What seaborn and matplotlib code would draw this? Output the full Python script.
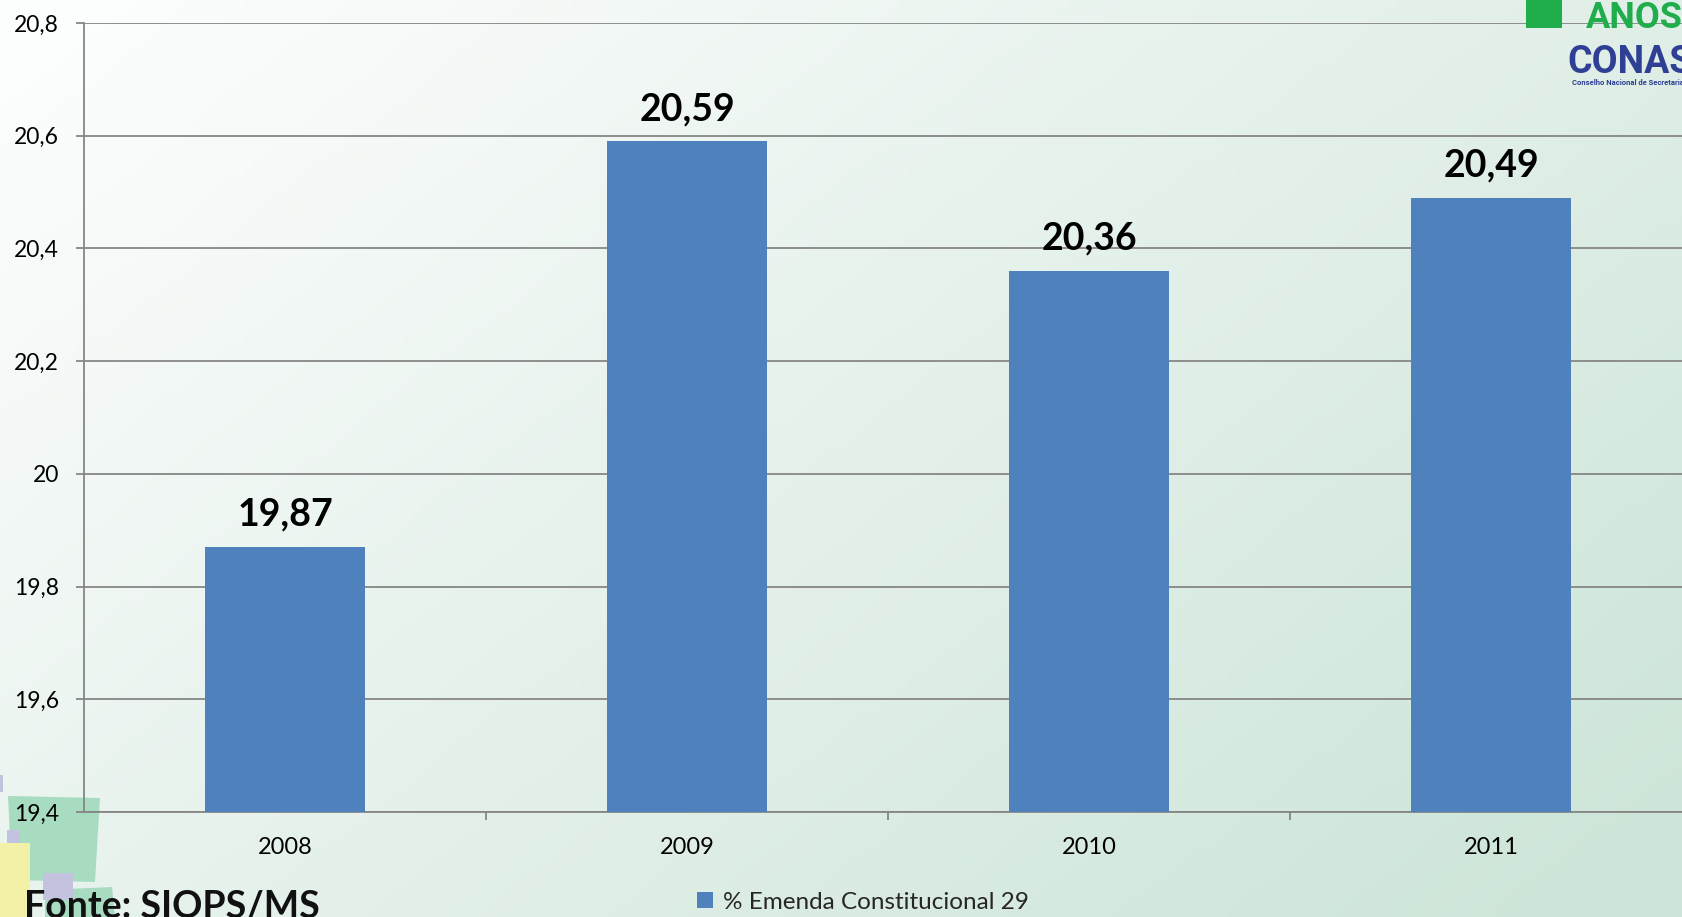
import numpy as np
import pandas as pd
import matplotlib
matplotlib.use("Agg")
import matplotlib.pyplot as plt
import matplotlib.patches as mpatches
import seaborn as sns

sns.set_style("white")
plt.rcParams["font.family"] = ["Lato", "DejaVu Sans"]

anos = ["2008", "2009", "2010", "2011"]
percentual = [19.87, 20.59, 20.36, 20.49]
serie = "% Emenda Constitucional 29"
y_ticks = [19.4, 19.6, 19.8, 20.0, 20.2, 20.4, 20.6, 20.8]
y_labels = ["19,4", "19,6", "19,8", "20", "20,2", "20,4", "20,6", "20,8"]

df = pd.DataFrame({"Ano": anos, "Percentual": percentual})

W, H = 1682, 917
fig = plt.figure(figsize=(W / 100, H / 100), dpi=100)

# background gradient white -> light green
bg_ax = fig.add_axes([0, 0, 1, 1], zorder=-10)
gx = np.linspace(0, 1, 200)
gy = np.linspace(0, 1, 120)
XX, YY = np.meshgrid(gx, gy)
t = np.clip(0.65 * XX + 0.45 * YY - 0.05, 0, 1)
c0 = np.array([252, 253, 253]) / 255
c1 = np.array([205, 229, 216]) / 255
img = c0[None, None, :] * (1 - t[..., None]) + c1[None, None, :] * t[..., None]
bg_ax.imshow(img, aspect="auto", extent=[0, 1, 0, 1], origin="upper")
bg_ax.set_xlim(0, 1)
bg_ax.set_ylim(0, 1)
bg_ax.axis("off")

# decorative shapes bottom-left
def fx(px):
    return px / W

def fy(py):
    return 1 - py / H

deco = [
    ([(8, 796), (100, 798), (95, 882), (12, 880)], "#a8dcc0"),
    ([(45, 890), (112, 887), (115, 917), (45, 917)], "#a8dcc0"),
    ([(0, 843), (30, 843), (30, 917), (0, 917)], "#f3f0a8"),
    ([(7, 830), (20, 830), (20, 843), (7, 843)], "#c3c3e0"),
    ([(43, 873), (73, 873), (73, 900), (43, 900)], "#c3c3e0"),
    ([(0, 775), (3, 775), (3, 792), (0, 792)], "#c3c3e0"),
]
for pts, col in deco:
    fig.patches.append(mpatches.Polygon([(fx(a), fy(b)) for a, b in pts],
                                        closed=True, transform=fig.transFigure,
                                        facecolor=col, edgecolor="none", zorder=-5))

ax = fig.add_axes([84 / W, 1 - 812 / H, 1608 / W, (812 - 23) / H])
ax.set_facecolor("none")

sns.barplot(data=df, x="Ano", y="Percentual", color="#4f81bd", width=0.4,
            saturation=1, label=serie, ax=ax, zorder=3, linewidth=0,
            edgecolor="none")

ax.set_ylim(19.4, 20.8)
ax.set_xlim(-0.5, 3.5)
ax.set_yticks(y_ticks)
ax.set_yticklabels(y_labels)
ax.yaxis.grid(True, color="#868686", linewidth=1.3)
ax.set_axisbelow(True)
ax.set_xlabel("")
ax.set_ylabel("")

for side in ["top", "right"]:
    ax.spines[side].set_visible(False)
for side in ["left", "bottom"]:
    ax.spines[side].set_color("#868686")
    ax.spines[side].set_linewidth(1.3)

ax.tick_params(axis="y", length=6, width=1.3, color="#868686", pad=12,
               labelsize=16.5, labelcolor="black", left=True)
ax.tick_params(axis="x", which="major", length=0, pad=18, labelsize=17,
               labelcolor="black")
ax.set_xticks([0.5, 1.5, 2.5], minor=True)
ax.tick_params(axis="x", which="minor", length=6, width=1.3, color="#868686",
               bottom=True, direction="out")

ax.bar_label(ax.containers[0],
             labels=[f"{v:.2f}".replace(".", ",") for v in percentual],
             padding=11, fontsize=27, fontweight="bold", color="black")

ax.legend(loc="center", bbox_to_anchor=(0.513, 0.016), bbox_transform=fig.transFigure,
          frameon=False, fontsize=17.5, handlelength=0.65, handleheight=0.65,
          handletextpad=0.4)

fig.text(24 / W, fy(918), "Fonte: SIOPS/MS", fontsize=27, fontweight="bold",
         ha="left", va="baseline", color="#111111")

# logo top-right
fig.patches.append(mpatches.Rectangle((fx(1526), fy(28)), 36 / W, 28 / H,
                                      transform=fig.transFigure, facecolor="#1fae4b",
                                      edgecolor="none"))
fig.text(fx(1586), fy(28), "ANOS", fontsize=26, fontweight="bold", color="#1fae4b",
         ha="left", va="baseline", family=["Roboto", "DejaVu Sans"])
fig.text(fx(1567), fy(73), "CONASS", fontsize=27, fontweight="bold", color="#2e3f94",
         ha="left", va="baseline", family=["Roboto", "DejaVu Sans"])
fig.text(fx(1572), fy(85), "Conselho Nacional de Secretarias", fontsize=5.5,
         fontweight="bold", color="#2e3f94", ha="left", va="baseline",
         family=["Roboto", "DejaVu Sans"])

fig.savefig("out.png", dpi=100)
